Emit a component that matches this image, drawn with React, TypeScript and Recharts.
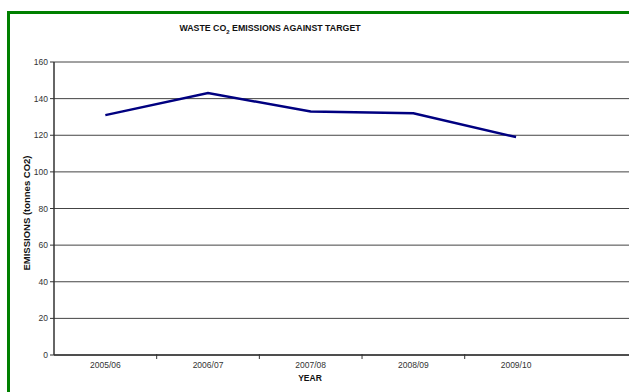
import React from 'react';
import { LineChart, Line, XAxis, YAxis, CartesianGrid } from 'recharts';

const years = ['2005/06', '2006/07', '2007/08', '2008/09', '2009/10'];
const emissions = [131, 143, 133, 132, 119];
const yTicks = [0, 20, 40, 60, 80, 100, 120, 140, 160];

const data = years.map((year, i) => ({ x: i + 0.5, year, value: emissions[i] }));
const xTicks: number[] = [];
years.forEach((_, i) => {
  xTicks.push(i + 0.5);
  if (i < years.length - 1) xTicks.push(i + 1);
});

const FONT = '"Liberation Sans", Arial, sans-serif';

function XTick(props: any) {
  const { x, y, payload } = props;
  const v = payload.value as number;
  if (Number.isInteger(v)) {
    return <line x1={x} x2={x} y1={y - 1} y2={y + 4} stroke="#333" strokeWidth={1} />;
  }
  const label = years[Math.round(v - 0.5)];
  return (
    <text x={x} y={y + 13} textAnchor="middle" fontSize={8.5} fill="#333" fontFamily={FONT}>
      {label}
    </text>
  );
}

export default function App() {
  return (
    <div style={{ position: 'fixed', left: 0, top: 0, width: 629, height: 392, overflow: 'hidden', background: '#fff' }}>
      <div style={{ position: 'absolute', left: 7, top: 11, width: 700, height: 500, border: '3px solid #008000', boxSizing: 'border-box' }} />
      <div style={{ position: 'absolute', left: 0, top: 0 }}>
        <LineChart width={629} height={392} data={data} margin={{ top: 62, right: 0, bottom: 17, left: 0 }}>
          <CartesianGrid vertical={false} stroke="#444" strokeWidth={1} />
          <XAxis
            type="number"
            dataKey="x"
            domain={[0, 5.6]}
            ticks={xTicks}
            interval={0}
            tickSize={0}
            tickMargin={0}
            tickLine={false}
            tick={<XTick />}
            axisLine={{ stroke: '#333', strokeWidth: 1.5 }}
            height={20}
            allowDataOverflow
          />
          <YAxis
            type="number"
            domain={[0, 160]}
            ticks={yTicks}
            interval={0}
            width={54}
            tickSize={4}
            tickMargin={2}
            tickLine={{ stroke: '#333' }}
            axisLine={{ stroke: '#333', strokeWidth: 1.5 }}
            tick={{ fontSize: 8.5, fill: '#333', fontFamily: FONT }}
          />
          <Line
            type="linear"
            dataKey="value"
            stroke="#000080"
            strokeWidth={2.5}
            dot={false}
            isAnimationActive={false}
          />
        </LineChart>
      </div>
      <div
        style={{
          position: 'absolute', left: 0, width: 540, top: 23, textAlign: 'center',
          fontFamily: FONT, fontWeight: 'bold', fontSize: 8.8, color: '#111',
        }}
      >
        WASTE CO<sub style={{ fontSize: 6, verticalAlign: 'sub', lineHeight: 0 }}>2</sub> EMISSIONS AGAINST TARGET
      </div>
      <div
        style={{
          position: 'absolute', left: 26, top: 213, transform: 'translate(-50%, -50%) rotate(-90deg)',
          whiteSpace: 'nowrap', fontFamily: FONT, fontWeight: 'bold', fontSize: 9.5, color: '#111',
        }}
      >
        EMISSIONS (tonnes CO2)
      </div>
      <div
        style={{
          position: 'absolute', left: 310, top: 378, transform: 'translate(-50%, -50%)',
          fontFamily: FONT, fontWeight: 'bold', fontSize: 8.5, color: '#111',
        }}
      >
        YEAR
      </div>
    </div>
  );
}
